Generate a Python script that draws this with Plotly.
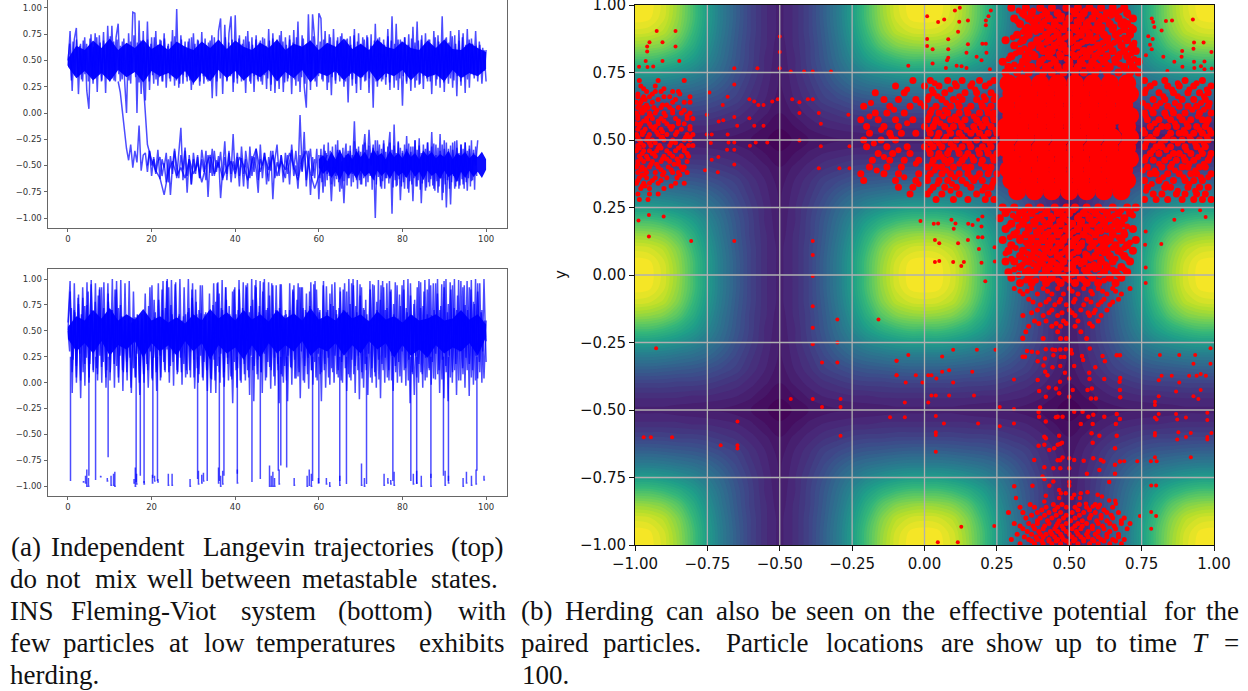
import numpy as np
import plotly.graph_objects as go

W, H = 1248, 691
# ---------- panel (a) top ----------
top_core_hi = [.52,.64,.60,.69,.62,.71,.60,.67,.62,.70,.61,.66,.60,.68,.63,.60,.68,.62,.70,.61,.69,.63,.60,.67,.62,.70,.60,.66,.63,.69,.60,.67,.63,.71,.61,.66,.60,.70,.63,.61,.68,.62,.60,.69,.62,.70,.61,.60,.67,.62,.58]
top_core_lo = [.44,.33,.40,.31,.38,.30,.41,.34,.39,.29,.40,.35,.38,.32,.40,.28,.38,.30,.41,.33,.40,.31,.38,.34,.41,.30,.39,.33,.41,.29,.38,.35,.40,.31,.39,.33,.41,.30,.38,.35,.41,.31,.39,.34,.37,.30,.41,.33,.38,.35,.42]
top_upper = [.45,.78,.21,.70,.81,.18,.66,.30,.72,.21,.04,.75,.28,.76,.20,.74,.30,.77,.19,.83,
 .30,.83,.31,.72,.85,.30,.68,.27,.00,.76,.28,.96,.95,.00,.88,.18,.78,.12,.87,.22,
 .72,.28,.78,.26,.70,.30,.76,.24,.66,.30,.79,.26,.99,.24,.74,.28,.68,.30,.71,.22,
 .76,.31,.70,.26,.77,.28,.65,.30,.69,.14,.72,.16,.78,.90,.18,.84,.30,.76,.92,.20,
 .93,.28,.74,.30,.70,.19,.78,.30,.72,.20,.74,.30,.69,.27,.71,.23,.80,.21,.76,.19,
 .70,.23,.78,.20,.72,.30,.74,.18,.79,.26,.87,.20,.74,.25,.05,.94,.22,.94,.70,.25,
 .95,.90,.30,.78,.22,.75,.17,.80,.28,.72,.30,.76,.25,.70,.10,.73,.26,.80,.19,.76,
 .22,.72,.30,.74,.19,.75,.05,.85,.25,.72,.30,.70,.27,.80,.22,.92,.24,.85,.22,.70,
 .07,.72,.28,.75,.21,.82,.24,.87,.27,.70,.23,.76,.30,.70,.18,.78,.26,.74,.24,.92,
 .20,.72,.28,.78,.24,.74,.16,.79,.26,.76,.19,.80,.24,.71,.36,.78,.30,.65,.28,.60,.30]
top_mid = [.50,.66,.31,.68,.36,.70,.34,.64,.32,.69,.37,.66,.30,.71,.35,.63,.33,.72,.38,.67,.31,.69,.36,.65,.34,.73,.33,.68,.30,.70,.37,.64,.32,.71,.35,.66,.31,.68,.38,.74,.34,.67,.29,.69,.36,.63,.33,.70,.30,.66,
 .36,.72,.32,.65,.34,.69,.30,.71,.37,.64,.33,.68,.35,.73,.31,.66,.28,.70,.36,.63,.34,.68,.31,.72,.27,.66,.33,.69,.30,.64,.35,.71,.32,.67,.37,.74,.34,.66,.30,.69,.33,.65,.36,.72,.31,.67,.35,.70,.29,.64,
 .33,.71,.36,.66,.31,.73,.34,.68,.28,.65,.35,.70,.32,.67,.30,.72,.36,.64,.33,.69,.27,.71,.34,.66,.31,.74,.35,.68,.29,.65,.33,.70,.36,.67,.32,.72,.30,.64,.34,.71,.28,.66,.36,.69,.33,.73,.30,.65,.35,.68,
 .32,.70,.37,.66,.29,.72,.34,.64,.31,.69,.36,.73,.33,.67,.30,.71,.35,.65,.32,.74,.28,.68,.36,.66,.34,.70,.31,.72,.33,.64,.37,.69,.30,.71,.35,.67,.32,.65,.34,.73,.29,.69,.36,.66,.31,.70,.33,.68,.35,.72,
 .30,.65,.34,.71,.37,.67,.31,.69,.28,.74,.35,.66,.33,.70,.30,.64,.36,.72,.32,.68,.34,.65,.29,.71,.36,.67,.33,.73,.31,.66,.35,.69,.30,.72,.34,.65,.32,.70,.37,.66,.33,.64,.36,.68,.38,.62,.40,.60]
top_lower_t0 = 12.0
top_lower = [.30,.20,.02,-.18,-.34,-.45,-.30,-.52,-.36,-.47,-.12,-.55,-.40,-.38,-.56,-.36,-.50,-.44,-.58,-.46,
 -.42,-.60,-.48,-.66,-.44,-.78,-.50,-.34,-.62,-.38,-.14,-.64,-.36,-.76,-.40,-.68,-.44,-.58,-.40,-.62,-.44,-.56,-.36,-.80,-.42,-.60,-.36,-.56,-.41,-.81,
 -.50,-.27,-.64,-.38,-.58,-.20,-.62,-.42,-.70,-.32,-.58,-.44,-.72,-.32,-.60,-.42,-.54,-.76,-.30,-.62,-.38,-.52,-.65,-.36,-.82,-.44,-.30,-.60,-.40,-.56,
 -.62,-.40,-.68,-.30,-.54,-.36,-.60,-.02,-.55,-.18,-.70,-.36,-.78,-.42,-.62,-.34,-.82,-.40,-.76,-.36,-.58,-.44,-.84,-.42,-.60,-.35,-.75,-.46,-.86,-.40,
 -.62,-.36,-.58,-.08,-.64,-.36,-.68,-.42,-.20,-.58,-.16,-.50,-.30,-1.00,-.26,-.56,-.72,-.26,-.62,-.40,-.18,-.96,-.11,-.70,-.28,-.83,-.38,-.72,-.22,-.76,
 -.32,-.84,-.26,-.70,-.24,-.86,-.36,-.74,-.28,-.70,-.18,-.72,-.30,-.76,-.20,-.83,-.26,-.90,-.34,-.87,-.28,-.72,-.26,-.72,-.30,-.68,-.28,-.74,-.34,-.65,-.38,-.50,-.26]
top_second_t0 = 17.0
top_second = [.40,.30,-.30,-.45,-.55,-.62,-.78,-.56,-.46,-.60,-.52,-.62,-.44,-.58,-.48,-.66,-.50,-.40,-.58,-.47,-.62,-.52,-.46,-.58,-.42,-.50,-.64,-.46,-.34,-.56,-.42,-.54,-.40,-.60,-.46,-.54,-.38,-.52,-.64,-.44,-.36,-.58,-.72,-.60,-.50,-.40]
top_third_t0 = 19.0
top_third = [-.50,-.36,-.60,-.42,-.56,-.35,-.63,-.44,-.52,-.38,-.66,-.41,-.58,-.36,-.50,-.62,-.40,-.54,-.33,-.60,-.44,-.68,-.38,-.55,-.42,-.62,-.35,-.50,-.64,-.40,-.57,-.34,-.60,-.45,-.52,-.37,-.64,-.42,-.58,-.36,-.66,-.46,-.54,-.38,-.60,-.43,-.70,-.36,-.52,-.62,-.41,-.56,-.34,-.64,-.44,-.50,-.38,-.68,-.42,-.55,-.36,-.62,-.47,-.53,-.40,-.66,-.38,-.58,-.44,-.35,-.60,-.50,-.72,-.40,-.56,-.36,-.64,-.48,-.34,-.60,-.44]
low_mid_t0 = 60.0
low_mid = [-.40,-.62,-.34,-.66,-.42,-.30,-.70,-.38,-.64,-.28,-.60,-.36,-.68,-.32,-.58,-.70,-.30,-.63,-.26,-.66,-.35,-.60,-.72,-.33,-.65,-.38,-.29,-.69,-.36,-.62,-.31,-.70,-.40,-.66,-.27,-.60,-.34,-.72,-.32,-.64,-.37,-.68,-.30,-.62,-.28,-.70,-.35,-.66,-.31,-.60,-.38,-.73,-.33,-.64,-.26,-.68,-.36,-.61,-.30,-.70,-.34,-.65,-.29,-.72,-.37,-.62,-.32,-.67,-.28,-.60,-.35,-.71,-.31,-.64,-.38,-.69,-.27,-.63,-.33,-.70,-.36,-.66,-.30,-.61,-.34,-.72,-.29,-.65,-.37,-.68,-.32,-.62,-.26,-.70,-.35,-.64,-.31,-.73,-.38,-.67,-.30,-.60,-.34,-.71,-.28,-.66,-.36,-.63,-.32,-.69,-.29,-.74,-.40,-.65,-.33,-.70,-.36,-.62,-.30,-.76,-.34,-.68,-.28,-.64,-.37,-.72,-.31,-.66,-.35,-.60,-.27,-.70,-.33,-.65,-.38,-.69,-.30,-.63,-.34,-.72,-.28,-.66,-.36,-.62,-.31,-.70,-.26,-.64,-.35,-.73,-.32,-.60]
low_core_t = [60,61,62,63,64,65,66,67,68,69,70,71,72,73,74,75,76,77,78,79,80,81,82,83,84,85,86,87,88,89,90,91,92,93,94,95,96,97,98,99,100]
low_core_hi = [-.44,-.40,-.46,-.37,-.44,-.35,-.43,-.38,-.44,-.36,-.42,-.37,-.44,-.34,-.41,-.38,-.44,-.36,-.42,-.38,-.43,-.35,-.42,-.38,-.44,-.36,-.41,-.37,-.43,-.39,-.42,-.36,-.44,-.38,-.41,-.37,-.43,-.39,-.42,-.37,-.44]
low_core_lo = [-.52,-.58,-.54,-.62,-.56,-.64,-.55,-.60,-.56,-.63,-.55,-.61,-.57,-.64,-.55,-.60,-.56,-.63,-.55,-.60,-.57,-.62,-.54,-.61,-.56,-.64,-.55,-.60,-.57,-.63,-.55,-.61,-.58,-.66,-.56,-.62,-.55,-.61,-.56,-.62,-.54]

# ---------- panel (a) bottom ----------
bot_core_hi = [.54,.64,.60,.70,.62,.72,.60,.66,.61,.71,.60,.64,.58,.63,.57,.66,.60,.71,.62,.68,.60,.70,.61,.66,.59,.70,.62,.67,.60,.72,.61,.65,.60,.70,.62,.66,.59,.69,.61,.64,.58,.66,.60,.62,.66,.60,.62,.70,.61,.66,.56]
bot_core_lo = [.42,.30,.38,.28,.40,.26,.36,.32,.40,.24,.38,.30,.36,.26,.40,.30,.38,.22,.36,.28,.34,.22,.36,.24,.38,.28,.36,.30,.40,.26,.34,.30,.38,.26,.36,.28,.40,.32,.38,.24,.36,.26,.32,.24,.36,.28,.34,.30,.38,.26,.44]
bot_a = [.58,.98,-.10,.96,.00,.85,-.15,.82,-.03,.97,.05,.99,.10,.96,.02,.92,.00,.97,-.05,.86,
 .10,1.00,-.05,.98,.00,.99,-.08,.96,.02,.98,-.10,.88,.05,.65,-.12,.62,.00,.66,-.05,.60,
 .02,.63,-.08,.60,.05,.98,.10,1.00,.00,.99,-.03,.97,.10,1.00,-.02,.92,.12,1.00,.05,.96,
 -.06,.66,.08,.67,.02,.64,-.08,.86,.03,.96,-.10,.97,.00,.99,-.04,.80,.02,.62,
 -.20,.92,-.05,.99,.00,.97,.02,.96,-.12,1.00,-.18,.99,.03,.98,-.10,1.00,.05,.97,-.06,.94,
 -.03,.68,-.20,.95,.00,.70,-.18,.96,-.02,.94,.04,.96,-.15,.92,.00,.68,-.06,.97,-.02,.98,
 .02,.68,-.18,.98,-.05,.70,-.02,.95,.00,.70,.05,.88,.00,.96,-.08,1.00,.02,1.00,-.10,.99,
 -.16,.92,-.05,.80,-.12,.98,.00,.94,-.05,.99,-.15,.98,.00,.96,.02,.90,-.08,.97,.00,.85,
 .00,.99,-.03,1.00,-.20,.65,-.12,.62,.00,.97,-.05,.99,.05,1.00,-.02,.96,.03,1.00,-.10,.95,
 -.15,1.00,-.18,.97,.00,1.00,-.12,.99,.02,.92,-.05,.98,-.13,.99,-.02,1.00,.04,.96,.00,1.00,.20]
bot_b = [.50,.88,.10,.70,.05,.76,.02,.92,.18,.75,.00,.95,.12,.78,.08,.90,.15,.72,.05,.96,.02,.70,.18,.90,.05,.75,.12,.60,.10,.58,-.05,.61,.05,.66,.00,.60,.08,.64,.12,.92,.04,.80,.10,.96,.02,.70,.12,.98,.10,.75,
 .20,.95,.08,.66,.10,.64,.05,.68,.12,.90,.05,.78,.00,.94,.05,.66,.12,.60,-.10,.75,.02,.96,.10,.72,.05,.92,.18,.66,.03,.90,.12,.70,.02,.65,.08,.92,.05,.74,.12,.94,.08,.68,.10,.97,.02,.72,.15,.96,.06,.70,
 .12,.95,.06,.65,.02,.62,.15,.90,.04,.80,.10,.92,.02,.70,.08,.88,.12,.95,.05,.72,.08,.60,.12,.93,.05,.76,.10,.97,.08,.72,.02,.90,.14,.68,.05,.96,.08,.74,.12,.95,.04,.70,.12,.60,.05,.95,.10,.78,.03,.94,
 .12,.70,.05,.98,.02,.76,.10,.62,.06,.94,.12,.72,.02,.96,.08,.80,.05,.98,.10,.74,.02,.90,.12,.65,.04,.96,.08,.70,.03,.98,.10,.76,.05,.94,.12,.70,.02,.98,.08,.75,.12,.92,.05,.78,.02,.96,.10,.70,.04,.60]
bot_c = [.50,.30,.72,.22,.68,.16,.82,.28,.66,.10,.74,.24,.88,.18,.70,.30,.62,.14,.84,.26,.92,.20,.66,.12,.78,.22,.70,.32,.90,.16,.72,.26,.64,.10,.60,.20,.62,.24,.58,.14,.63,.28,.60,.16,.66,.22,.86,.18,.74,.30,
 .94,.24,.68,.12,.80,.26,.90,.20,.72,.32,.92,.16,.66,.28,.62,.12,.64,.24,.60,.18,.66,.08,.72,.30,.82,.22,.90,.14,.70,.26,.94,.20,.68,.12,.60,.04,.64,.22,.78,.16,.86,.28,.70,.10,.92,.24,.74,.06,.88,.20,
 .66,.14,.90,.30,.72,.18,.94,.12,.68,.26,.80,.16,.92,.22,.74,.10,.88,.28,.70,.20,.84,.12,.66,.24,.94,.18,.72,.08,.62,.16,.66,.26,.70,.14,.88,.22,.64,.06,.92,.30,.72,.16,.86,.24,.74,.12,.66,.20,.90,.28,
 .70,.10,.94,.18,.68,.24,.86,.14,.74,.26,.66,.12,.92,.20,.70,.30,.88,.08,.76,.22,.94,.16,.68,.26,.84,.10,.72,.18,.66,.28,.90,.14,.62,.06,.70,.22,.80,.18,.92,.24,.72,.12,.88,.26,.66,.16,.94,.20,.74,.30,
 .90,.14,.68,.22,.84,.10,.76,.26,.92,.18,.72,.08,.88,.24,.66,.14,.94,.20,.70,.28,.86,.12,.74,.22,.92,.16,.68,.26,.90,.10,.72,.18,.84,.30,.66,.14,.94,.24,.70,.18,.90,.12,.76,.26,.88,.20,.68,.30,.60,.40]
drop_t = [.6,5,6.6,9.6,16.3,17.3,18.2,20.3,21.4,31,33.3,36.2,37.3,40.5,44,46,50.3,50.9,52.3,58.5,60,65,66.6,71.4,77.7,82,83.4,86.8,89.8,91,97.8]
drop_floor = [-.95,-.90,-.94,-.72,-.96,-.90,-.97,-.92,-.95,-.93,-.95,-.95,-.90,-.88,-.96,-.93,-.85,-.80,-.82,-.95,-.97,-.95,-.98,-.98,-.95,-.95,-.98,-.92,-.90,-.95,-.85]
frag_t = [3.7,4.2,4.5,4.9,7.8,9.4,10.3,10.9,11.2,15.8,16.1,16.4,18.2,20.2,20.7,21.5,24.0,24.9,29.2,31.2,32.0,32.4,36.0,36.5,37.0,40.5,48.2,48.6,49.0,49.4,50.5,54.1,57.2,57.7,58.2,59.9,61.8,62.6,65.0,70.2,70.9,75.6,76.5,77.2,78.0,82.6,83.4,84.5,86.8,90.2,91.0,94.5,95.3,96.5,97.6,99.5]
frag_hi = [-.95,-.90,-.84,-.92,-.90,-.92,-.90,-.88,-.86,-.93,-.82,-.88,-.95,-.89,-.90,-.93,-.88,-.88,-.93,-.85,-.89,-.87,-.82,-.90,-.85,-.84,-.80,-.90,-.86,-.92,-.84,-.92,-.90,-.84,-.88,-.92,-.92,-.96,-.90,-.78,-.92,-.88,-.92,-.94,-.86,-.88,-.85,-.90,-.88,-.85,-.90,-.92,-.86,-.90,-.84,-.90]
frag_lo = [-.96,-.97,-1.0,-1.0,-.91,-.95,-.99,-.99,-1.0,-.97,-1.0,-.98,-.98,-.97,-.95,-.96,-.99,-.99,-1.0,-.98,-.97,-.95,-.97,-1.0,-.98,-.97,-1.0,-1.0,-1.0,-1.0,-.98,-.99,-1.0,-.99,-1.0,-.97,-.98,-1.0,-.99,-.99,-1.0,-.99,-.97,-.98,-.99,-.98,-.97,-1.0,-1.0,-.99,-.97,-1.0,-.97,-.99,-.98,-.94]

potential_quarter = [
 [1.00,.99,.94,.84,.70,.55,.41,.30,.20,.13,.09],
 [ .99,.98,.93,.83,.70,.55,.41,.30,.20,.13,.09],
 [ .94,.93,.89,.80,.67,.53,.40,.29,.20,.13,.09],
 [ .84,.83,.80,.73,.62,.50,.38,.28,.19,.13,.08],
 [ .70,.70,.67,.62,.55,.46,.36,.27,.19,.12,.08],
 [ .55,.55,.53,.50,.46,.40,.33,.25,.18,.12,.07],
 [ .41,.41,.40,.38,.36,.33,.28,.22,.16,.11,.07],
 [ .30,.30,.29,.28,.27,.25,.22,.19,.14,.10,.06],
 [ .20,.20,.20,.19,.19,.18,.16,.14,.11,.08,.05],
 [ .13,.13,.13,.13,.12,.12,.11,.10,.08,.05,.03],
 [ .09,.09,.09,.08,.08,.07,.07,.06,.05,.03,.00]]

# ---------- panel (b) particles ----------
sparse_xy = [(-.925,.904),(-.86,.904),(-.95,.862),(-.905,.862),(-.958,.846),(-.86,.846),(-.958,.828),(-.963,.793),(-.905,.793),(-.847,.793),(-.986,.771),(-.957,.77),(-.937,.772),
(-.657,.766),(-.577,.766),(-.5,.883),(-.5,.826),(-.5,.766),(-.462,.754),(-.416,.754),(-.386,.754),(-.323,.754),(-.743,.676),(-.68,.66),(-.657,.706),(-.605,.651),(-.588,.643),(-.574,.63),(-.556,.63),(-.526,.643),(-.507,.651),(-.457,.651),(-.432,.64),(-.432,.6),(-.403,.651),(-.386,.651),(-.365,.6),(-.358,.56),(-.263,.594),(-.752,.594),(-.697,.63),(-.711,.569),(-.695,.573),(-.657,.585),(-.647,.553),(-.605,.581),(-.588,.553),(-.556,.553),(-.752,.52),(-.735,.52),(-.68,.52),(-.677,.491),(-.657,.491),(-.603,.479),(-.583,.491),(-.543,.491),(-.738,.489),(-.682,.464),(-.657,.464),(-.712,.437),(-.735,.427),(-.657,.409),(-.758,.388),(-.714,.381),(-.432,.498),(-.358,.477),(-.259,.477),(-.365,.395),(-.294,.395),(-.259,.395),
(-.952,.222),(-.901,.217),(-.988,.202),(-.952,.143),(-.806,.126),(-.657,.126),(-.386,.126),(-.386,.074),(-.386,-.004),(-.386,-.116),(-.301,-.165),(-.159,-.165),(-.386,-.195),(-.301,-.25),(-.386,-.256),(-.927,-.271),(-.354,-.324),(-.301,-.324),(-.096,-.318),(-.096,-.371),(-.462,-.459),(-.386,-.459),(-.29,-.459),(-.354,-.489),(-.29,-.489),(-.119,-.527),(-.646,-.543),(-.29,-.595),(-.97,-.601),(-.945,-.601),(-.872,-.601),(-.704,-.631),(-.646,-.631),(-.646,-.643),
(-.056,-.296),(-.097,-.318),(.061,-.302),(.099,-.277),(.181,-.277),(.245,-.277),(-.097,-.371),(-.03,-.371),(.013,-.371),(.024,-.371),(.041,-.383),(.061,-.358),(.085,-.353),(.165,-.358),(-.065,-.398),(-.007,-.398),(.099,-.398),(.024,-.446),(.039,-.446),(.085,-.446),(.171,-.446),(-.068,-.472),(.013,-.472),(.26,-.489),(.309,-.496),(.309,-.387),(-.068,-.527),(.039,-.522),(.067,-.55),(.185,-.55),(.26,-.56),(.309,-.55),(.039,-.582),(.039,-.593),(.039,-.655),
(.813,-.296),(.88,-.296),(.935,-.296),(.988,-.271),(.929,-.329),(.988,-.329),(.819,-.373),(.809,-.39),(.854,-.373),(.914,-.373),(.94,-.373),(.954,-.367),(.972,-.373),(.88,-.398),(.954,-.426),(.809,-.449),(.869,-.431),(.929,-.449),(.946,-.459),(.796,-.469),(.796,-.481),(.809,-.515),(.796,-.528),(.802,-.535),(.869,-.515),(.873,-.535),(.903,-.528),(.977,-.51),(.977,-.537),(.796,-.585),(.796,-.594),(.877,-.582),(.873,-.609),(.903,-.6),(.92,-.585),(.977,-.6),(.991,-.585),(.977,-.609),(.796,-.675),(.782,-.69),(.802,-.69),(.92,-.675),(.735,-.69),(.69,-.69),(.783,-.78),(.8,-.78),(.783,-.878),(.8,-.893),(.744,-.893),(.783,-.94),
(.127,-.932),(.241,-.93),(.046,-.99),(.115,-.99),
(.009,.958),(.047,.937),(.068,.946),(.105,.98),(.122,.99),(.12,.938),(.15,.943),(.116,.901),(.009,.874),(.082,.873),(.009,.848),(.028,.836),(.082,.836),(.15,.855),(.2,.857),(.212,.857),(.145,.823),(.214,.823),(.18,.808),(.082,.805),(.078,.795),(.028,.783),(-.056,.775),(.111,.775),(.128,.773),(.074,.767),(.145,.767),(.197,.795),(.226,.762),(.212,.943),(.212,.925),(.221,.958),(.229,.98),
(.785,.95),(.79,.937),(.794,.919),(.819,.906),(.834,.941),(.855,.943),(.927,.946),(.773,.884),(.788,.874),(.785,.836),(.779,.853),(.931,.861),(.964,.861),(.929,.838),(.89,.83),(.991,.826),(.825,.808),(.888,.808),(.863,.79),(.931,.79),(.765,.814),(.891,.771),(.932,.767),(.955,.773),(.967,.791),(.967,.762),(.992,.765),(.839,.756),
(-.014,.2),(.032,.19),(.047,.191),(.093,.205),(.107,.191),(.101,.171),(.151,.19),(.166,.185),(.185,.205),(.2,.217),(.197,.18),(.036,.13),(.051,.118),(.116,.118),(.15,.13),(.185,.14),(.2,.14),(.188,.096),(.036,.048),(.051,.052),(.099,.048),(.127,.033),(.136,.048),(.197,.045),(.242,.103),(.21,-.023),(.243,.05),
(.764,.161),(.762,.112),(.818,.115),(.863,.205),(.971,.215),(.891,.24),(.952,.24),(.764,.028),(.764,-.03)]
stem_mid_xy = [(.339,-.232),(.354,-.281),(.371,-.284),(.391,-.287),(.419,-.275),(.442,-.276),(.452,-.278),(.469,-.276),(.488,-.275),(.506,-.278),(.571,-.272),(.339,-.303),(.347,-.303),(.391,-.319),(.416,-.309),(.445,-.297),(.471,-.304),(.483,-.304),(.509,-.291),(.544,-.3),(.548,-.315),(.615,-.3),(.623,-.319),(.664,-.297),(.675,-.297),(.411,-.335),(.417,-.358),(.442,-.342),(.469,-.337),(.485,-.362),(.517,-.337),(.569,-.362),(.59,-.342),(.391,-.389),(.425,-.371),(.468,-.395),(.5,-.383),(.57,-.385),(.621,-.385),(.676,-.381),(.674,-.395),(.396,-.43),(.429,-.417),(.454,-.42),(.512,-.426),(.563,-.426),(.578,-.42),(.675,-.426),(.419,-.451),(.465,-.438),(.5,-.451),(.575,-.457),(.592,-.457),(.676,-.453),(.394,-.507),(.399,-.491),(.46,-.525),(.477,-.525),(.517,-.506),(.546,-.506),(.566,-.525),(.583,-.518),(.621,-.525),(.664,-.515),(.675,-.533),(.396,-.525),(.419,-.543),(.454,-.527),(.54,-.552),(.581,-.552),(.661,-.552),(.414,-.599),(.419,-.605),(.465,-.595),(.604,-.595),(.577,-.586),(.664,-.595),(.581,-.621),(.475,-.621),(.468,-.626),(.46,-.629),(.448,-.642),(.431,-.648),(.414,-.629),(.394,-.632),(.658,-.642),(.379,-.685),(.46,-.686),(.468,-.686),(.477,-.676),(.5,-.679),(.517,-.685),(.55,-.688),(.583,-.679),(.609,-.685),(.618,-.691),(.658,-.703),(.675,-.691),(.414,-.712),(.445,-.716),(.469,-.716),(.5,-.716),(.561,-.736),(.604,-.722),(.658,-.736),(.408,-.746),(.414,-.756),(.445,-.765),(.5,-.767),(.638,-.767),(.373,-.781),(.31,-.782),(.431,-.781),(.5,-.781),(.465,-.796),(.471,-.808),(.488,-.808),(.517,-.814),(.54,-.808),(.563,-.805),(.598,-.814),(.613,-.82),(.465,-.826),(.419,-.818),(.414,-.839),(.509,-.826),(.537,-.826),(.316,-.826),(.638,-.835),(.659,-.836),(.661,-.847),(.558,-.847),(.606,-.851),(.581,-.857)]

left_y = [.72,.70,.68,.66,.64,.62,.60,.58,.56,.54,.52,.50,.48,.46,.44,.42,.40,.38,.36,.34,.32,.30,.28]
left_x = [[-.985,-.92,-.83],[-.98,-.93],[-.96,-.93,-.91,-.87,-.85],[-.99,-.97,-.95,-.90,-.88,-.81],[-.995,-.98,-.94,-.87,-.83,-.81],
 [-.99,-.97,-.955,-.935,-.91,-.88,-.85],[-.995,-.975,-.95,-.93,-.90,-.87,-.84,-.81],[-.99,-.96,-.94,-.91,-.86,-.82,-.80],[-.995,-.98,-.95,-.92,-.89,-.85,-.83],[-.99,-.965,-.935,-.91,-.875,-.84,-.81],
 [-.995,-.975,-.95,-.92,-.89,-.86,-.82,-.80],[-.985,-.96,-.94,-.90,-.87,-.83,-.81],[-.99,-.97,-.945,-.915,-.88,-.84,-.815,-.80],[-.995,-.97,-.95,-.925,-.89,-.86,-.83],[-.985,-.96,-.93,-.90,-.87,-.84,-.815],
 [-.99,-.97,-.94,-.91,-.88,-.85,-.82],[-.995,-.975,-.95,-.92,-.885,-.84,-.83],[-.99,-.96,-.93,-.90,-.87,-.85,-.82],[-.985,-.96,-.93,-.89,-.855],[-.995,-.97,-.95,-.92,-.86,-.83],
 [-.98,-.95,-.90],[-.99,-.95,-.92],[-.985,-.955]]
left2_y = [.69,.67,.65,.63,.61,.59,.57,.55,.53,.51,.49,.47,.45,.43,.41,.39,.37,.35,.33]
left2_x = [[-.97,-.90],[-.99,-.94,-.845],[-.975,-.965,-.92,-.86],[-.985,-.96,-.905,-.89],[-.98,-.965,-.925,-.87,-.83],[-.99,-.95,-.945,-.895,-.82],[-.97,-.96,-.92,-.90,-.85],[-.985,-.945,-.93,-.88,-.87,-.81],[-.975,-.97,-.925,-.905,-.855],[-.99,-.955,-.91,-.905,-.825,-.81],
 [-.98,-.95,-.93,-.875,-.86],[-.99,-.985,-.92,-.91,-.85,-.83],[-.975,-.94,-.935,-.88,-.82],[-.98,-.955,-.905,-.89,-.855],[-.99,-.945,-.925,-.865,-.85],[-.98,-.965,-.91,-.875,-.835],[-.975,-.97,-.905,-.845],[-.99,-.94,-.91],[-.975,-.965,-.875]]
mid_y = [.72,.70,.675,.65,.625,.60,.575,.55,.525,.50,.475,.45,.425,.40,.375,.35,.325,.30,.28]
mid_x = [[-.04,.02,.08,.13,.19,.24],[-.10,.00,.05,.11,.16,.21],[-.17,-.07,.03,.07,.14,.18,.23],[-.14,-.09,-.03,.01,.06,.10,.13,.18,.21,.24],[-.21,-.12,-.05,.00,.04,.09,.12,.16,.20,.23],
 [-.17,-.13,-.07,.02,.05,.08,.12,.15,.19,.22,.24],[-.22,-.16,-.10,-.04,.01,.04,.09,.11,.14,.18,.21,.24],[-.20,-.14,-.09,.00,.03,.07,.10,.13,.17,.20,.23],[-.19,-.12,-.08,-.03,.02,.05,.09,.12,.16,.19,.22,.25],[-.21,-.15,-.10,.01,.04,.07,.11,.14,.18,.21,.24],
 [-.20,-.13,-.06,.00,.03,.06,.10,.13,.16,.20,.23],[-.16,-.11,-.05,.02,.05,.08,.12,.15,.19,.22,.25],[-.18,-.12,-.07,-.02,.03,.07,.09,.13,.17,.20,.24],[-.19,-.13,-.08,.01,.04,.06,.10,.14,.16,.21,.23],[-.22,-.14,-.09,-.02,.02,.06,.09,.12,.15,.19,.22,.25],
 [-.21,-.10,-.03,.01,.05,.08,.13,.17,.20,.24],[-.09,-.04,.03,.07,.11,.16,.21,.23],[-.05,.01,.06,.12,.18,.22],[.04,.10,.15,.21,.24]]
mid2_y = [.71,.687,.662,.637,.612,.587,.562,.537,.512,.487,.462,.437,.412,.387,.362,.337,.312]
mid2_x = [[.035,.105,.165,.225],[-.06,.025,.09,.175],[.015,.045,.12,.205,.245],[-.185,-.015,.075,.115,.195],[-.105,.025,.07,.145,.215],[-.19,.015,.065,.105,.17,.235],[-.06,.035,.055,.125,.19,.215],[-.15,.015,.085,.145,.175,.245],[-.115,.045,.075,.13,.205],[-.175,.02,.05,.09,.155,.225],[-.09,.015,.085,.115,.185,.215],[-.14,.045,.06,.14,.165,.235],[-.03,.025,.08,.12,.195],[-.165,.035,.075,.15,.225],[-.07,.01,.105,.16,.18],[-.02,.045,.095,.145,.235],[.02,.09,.2]]
right_y = [.72,.70,.675,.65,.625,.60,.575,.55,.525,.50,.475,.45,.425,.40,.375,.35,.325,.30,.28]
right_x = [[.76,.83,.90,.96],[.78,.84,.88,.93,.99],[.76,.81,.86,.91,.95,.98],[.79,.83,.89,.93,.97],[.77,.80,.84,.88,.91,.94,.98],
 [.76,.79,.83,.86,.90,.95,.99],[.77,.81,.85,.89,.92,.96,.98],[.78,.82,.84,.87,.91,.94,.97],[.76,.80,.85,.88,.90,.93,.96,.99],[.77,.79,.83,.86,.89,.92,.95,.98],
 [.76,.80,.82,.85,.90,.94,.97],[.78,.81,.86,.88,.92,.96,.99],[.76,.79,.83,.87,.90,.93,.98],[.77,.82,.85,.89,.91,.95,.97],[.78,.80,.84,.88,.92,.94,.99],
 [.76,.81,.86,.90,.93,.96],[.77,.83,.85,.91,.95,.98],[.79,.82,.87,.90,.94,.97],[.76,.80,.84,.89,.93,.96,.99]]
right2_y = [.71,.687,.662,.637,.612,.587,.562,.537,.512,.487,.462,.437,.412,.387,.362,.337,.312]
right2_x = [[.795,.875,.94],[.765,.855,.915,.975],[.825,.875,.965],[.755,.815,.865,.955,.985],[.785,.855,.925,.965],[.765,.835,.88,.945],[.795,.865,.905,.975],[.755,.805,.895,.95,.985],[.78,.84,.915,.975],[.765,.815,.875,.935,.965],[.79,.835,.905,.955],[.765,.845,.895,.945,.985],[.81,.855,.915,.965],[.755,.795,.865,.935],[.825,.895,.955,.98],[.785,.835,.915],[.765,.875,.935]]
top_arm_y = [.99,.97,.95,.93,.91,.89,.87,.85,.83,.81,.79,.77,.75]
top_arm_x = [[.30,.35,.40,.44,.49,.53,.57,.61,.65,.69],[.34,.37,.42,.46,.52,.55,.59,.63,.66,.70],[.31,.36,.39,.43,.47,.50,.54,.58,.62,.67,.72],[.33,.38,.41,.45,.49,.53,.56,.60,.64,.68,.70],
 [.35,.37,.40,.44,.48,.52,.55,.59,.61,.65,.69,.72],[.32,.36,.42,.46,.50,.54,.57,.62,.66,.71],[.28,.34,.39,.43,.47,.51,.56,.58,.63,.67,.70],[.31,.37,.40,.45,.48,.53,.60,.64,.68,.72],
 [.33,.36,.41,.44,.49,.55,.57,.61,.65,.69,.73],[.30,.35,.38,.43,.47,.52,.56,.59,.63,.67,.70],[.27,.34,.40,.45,.50,.54,.58,.62,.66,.71,.74],[.29,.33,.37,.42,.46,.49,.53,.57,.60,.64,.69,.72],[.28,.32,.36,.41,.44,.48,.52,.55,.59,.63,.67,.71,.74]]
top2_y = [.98,.96,.94,.92,.90,.88,.86,.84,.82,.80,.78,.76]
top2_x = [[.325,.375,.415,.51,.555,.585,.645,.675],[.345,.405,.47,.475,.535,.605,.645,.705],[.32,.37,.415,.45,.525,.565,.605,.635,.69],[.355,.39,.425,.465,.51,.57,.615,.655,.715],[.34,.385,.43,.455,.53,.565,.6,.675,.705],[.305,.35,.405,.445,.485,.525,.595,.635,.69],[.33,.385,.42,.46,.505,.545,.615,.655,.725],[.345,.395,.43,.47,.515,.57,.585,.625,.71],[.315,.375,.425,.465,.51,.535,.6,.675,.715],[.29,.36,.41,.445,.49,.545,.61,.655,.725],[.31,.355,.395,.435,.505,.55,.59,.63,.675],[.3,.35,.39,.43,.465,.51,.575,.62,.695,.73]]
low_arm_y = [.25,.23,.21,.19,.17,.15,.13,.11,.09,.07,.05,.03,.01,-.01,-.03]
low_arm_x = [[.27,.31,.36,.40,.45,.49,.52,.56,.60,.65,.70,.73],[.28,.33,.37,.42,.46,.50,.55,.59,.63,.67,.71],[.26,.32,.35,.39,.44,.48,.53,.57,.61,.64,.69],[.30,.34,.38,.43,.47,.51,.54,.58,.62,.66,.68],
 [.28,.36,.40,.45,.49,.53,.56,.60,.63,.67,.72],[.31,.35,.39,.42,.46,.50,.55,.59,.65,.69],[.27,.33,.37,.41,.44,.48,.52,.57,.61,.64,.68,.73],[.30,.36,.39,.43,.47,.51,.54,.58,.62,.66,.70],
 [.29,.34,.38,.42,.45,.49,.53,.60,.63,.67,.72],[.33,.37,.41,.46,.50,.56,.59,.64,.69],[.28,.31,.36,.40,.44,.48,.52,.55,.61,.65,.71],[.33,.39,.43,.47,.51,.57,.60,.63,.68],[.29,.35,.38,.42,.46,.52,.56,.62,.66,.70],[.30,.36,.41,.44,.49,.54,.58,.64,.68],[.33,.37,.42,.47,.52,.56,.60,.66]]
low2_y = [.24,.22,.20,.18,.16,.14,.12,.10,.08,.06,.04,.02,.00,-.02]
low2_x = [[.29,.345,.385,.425,.475,.515,.575,.615,.68],[.305,.35,.405,.435,.48,.535,.565,.6,.655,.72],[.335,.375,.41,.465,.495,.545,.59,.625,.665],[.29,.325,.36,.415,.455,.5,.56,.605,.645,.7],[.32,.385,.43,.47,.515,.575,.61,.65,.69],[.295,.33,.37,.405,.44,.485,.53,.565,.625,.67],[.35,.39,.425,.46,.505,.545,.59,.63,.71],[.315,.375,.41,.455,.495,.525,.57,.61,.65,.69],[.28,.355,.395,.435,.475,.515,.555,.62,.68],[.3,.345,.385,.42,.47,.53,.575,.61,.66,.7],[.34,.375,.41,.455,.505,.54,.585,.625],[.31,.36,.415,.45,.49,.55,.59,.65,.69],[.325,.37,.405,.44,.48,.51,.57,.605,.67],[.35,.385,.43,.46,.5,.55,.62]]
stem_y = [-.05,-.07,-.09,-.11,-.13,-.15,-.17,-.19,-.21,-.235,-.86,-.88,-.90,-.92,-.94,-.96,-.98,-.995]
stem_x = [[.31,.37,.41,.46,.50,.55,.60,.65,.71],[.34,.39,.44,.48,.53,.58,.63,.68],[.36,.43,.47,.52,.56,.62,.67],[.40,.45,.49,.55,.60,.64],[.39,.44,.50,.54,.59,.63],[.34,.41,.46,.52,.57,.61],[.38,.42,.48,.53,.60],[.36,.44,.47,.52,.58],[.35,.46,.54],[.34,.41,.47,.49,.56],
 [.33,.38,.42,.46,.49,.52,.56,.60,.65],[.29,.34,.39,.43,.47,.51,.55,.59,.63,.67],[.35,.40,.44,.48,.52,.57,.61,.65,.69],
 [.31,.36,.39,.43,.46,.49,.53,.56,.60,.64,.68,.71],[.34,.38,.41,.45,.48,.51,.54,.58,.62,.66,.70],[.32,.37,.40,.42,.44,.47,.50,.53,.56,.59,.63,.67],[.30,.36,.39,.43,.46,.48,.52,.55,.58,.61,.65,.69],[.33,.38,.41,.44,.47,.50,.53,.57,.60,.64,.68]]
stem2_y = [-.06,-.10,-.14,-.18,-.85,-.87,-.89,-.91,-.93,-.95,-.97,-.985]
stem2_x = [[.33,.355,.425,.51,.575,.615,.66],[.375,.42,.465,.515,.575,.61,.65],[.37,.43,.475,.51,.565,.585],[.395,.455,.49,.57],[.365,.445,.475,.535,.59],[.405,.45,.53,.57,.62],[.37,.415,.455,.49,.535,.575,.61,.645],[.39,.425,.465,.505,.545,.595,.63,.68],[.33,.375,.415,.455,.475,.52,.545,.58,.615,.655],[.355,.395,.435,.46,.49,.525,.565,.6,.64],[.345,.385,.41,.45,.475,.51,.54,.565,.6,.63,.67],[.37,.405,.43,.455,.49,.515,.55,.585,.62,.66]]
core_y = [.71,.67,.63,.59,.55,.51,.47,.43,.39,.35,.31]
core_x = [[.29,.34,.40,.46,.52,.58,.64,.70],[.30,.36,.42,.48,.54,.60,.66,.71],[.28,.34,.39,.45,.51,.57,.63,.69],[.30,.36,.42,.48,.54,.60,.66,.71],[.28,.33,.39,.45,.51,.57,.63,.70],[.29,.35,.41,.47,.53,.59,.65,.71],[.28,.34,.40,.46,.52,.58,.64,.70],[.30,.36,.42,.48,.54,.60,.66,.71],[.29,.34,.40,.46,.52,.58,.64,.69],[.30,.36,.42,.48,.54,.60,.66,.70],[.32,.38,.44,.50,.56,.62,.68]]

grid_ticks = [-1,-.75,-.5,-.25,0,.25,.5,.75,1]
caption_words = [
 (547,[(10,"(a)"),(50,"Independent"),(202,"Langevin"),(313,"trajectories"),(450,"(top)")]),
 (579,[(9,"do"),(45,"not"),(94,"mix"),(146,"well"),(200,"between"),(301,"metastable"),(430,"states.")]),
 (611,[(9,"INS"),(70,"Fleming-Viot"),(240,"system"),(337,"(bottom)"),(457,"with")]),
 (643,[(9,"few"),(62,"particles"),(168,"at"),(203,"low"),(255,"temperatures"),(418,"exhibits")]),
 (675,[(9,"herding.")]),
 (611,[(520,"(b)"),(564,"Herding"),(665,"can"),(715,"also"),(770,"be"),(805,"seen"),(863,"on"),(901,"the"),(948,"effective"),(1052,"potential"),(1163,"for"),(1205,"the")]),
 (643,[(520,"paired"),(602,"particles."),(725,"Particle"),(825,"locations"),(940,"are"),(985,"show"),(1054,"up"),(1095,"to"),(1128,"time"),(1191,"<i>T</i>"),(1223,"=")]),
 (675,[(521,"100.")]),
]
CAPTION_SIZE = 27

def xd(a,b): return [a/W,b/W]
def yd(top,bot): return [1-bot/H,1-top/H]
fig = go.Figure()
BLUE = "rgba(0,0,255,0.7)"
SOLID = "rgba(0,0,255,0.95)"

def band(t,hi,lo,xa,ya):
    fig.add_trace(go.Scatter(x=list(t)+list(t)[::-1],y=list(hi)+list(lo)[::-1],fill="toself",mode="none",fillcolor=SOLID,xaxis=xa,yaxis=ya,hoverinfo="skip",showlegend=False))
def line(t,v,xa,ya,width=1.5,color=BLUE):
    fig.add_trace(go.Scatter(x=t,y=v,mode="lines",line=dict(color=color,width=width),xaxis=xa,yaxis=ya,hoverinfo="skip",showlegend=False))

t_core = np.linspace(0,100,len(top_core_hi))
band(t_core,top_core_hi,top_core_lo,"x","y")
line(np.linspace(0,100,len(top_mid)),top_mid,"x","y")
line(np.linspace(0,100,len(top_upper)),top_upper,"x","y")
line(top_lower_t0+0.5*np.arange(len(top_lower)),top_lower,"x","y")
line(top_second_t0+1.0*np.arange(len(top_second)),top_second,"x","y")
line(top_third_t0+0.5*np.arange(len(top_third)),top_third,"x","y")
line(low_mid_t0+0.25*np.arange(len(low_mid)),low_mid,"x","y")
band(low_core_t,low_core_hi,low_core_lo,"x","y")

band(np.linspace(0,100,len(bot_core_hi)),bot_core_hi,bot_core_lo,"x2","y2")
line(np.linspace(0,100,len(bot_a)),bot_a,"x2","y2")
line(np.linspace(0,100,len(bot_b)),bot_b,"x2","y2")
line(np.linspace(0,100,len(bot_c)),bot_c,"x2","y2")
dx,dy=[],[]
for t,f in zip(drop_t,drop_floor):
    dx+=[t,t,None]; dy+=[.25,f,None]
line(dx,dy,"x2","y2")
fx,fy=[],[]
for t,a,b in zip(frag_t,frag_hi,frag_lo):
    fx+=[t,t,t+.25,None]; fy+=[a,b,b,None]
line(fx,fy,"x2","y2")

# potential
fold = list(range(11))+list(range(9,-1,-1))+list(range(1,11))+list(range(9,-1,-1))
axis_vals = [round(-1+.05*i,2) for i in range(41)]
z = [[potential_quarter[fold[j]][fold[i]] for i in range(41)] for j in range(41)]
fig.add_trace(go.Contour(x=axis_vals,y=axis_vals,z=z,colorscale="Viridis",showscale=False,zmin=0,zmax=1,
    contours=dict(start=0,end=1.0,size=0.025,coloring="fill",showlines=False),line=dict(width=0),
    xaxis="x3",yaxis="y3",hoverinfo="skip"))

def rows(ys,xs):
    ox,oy=[],[]
    for y,r in zip(ys,xs):
        for x in r:
            ox.append(x); oy.append(y)
    return ox,oy
def pts(x,y,size):
    fig.add_trace(go.Scatter(x=x,y=y,mode="markers",marker=dict(color="#ff0000",size=size,line=dict(width=0)),xaxis="x3",yaxis="y3",hoverinfo="skip",showlegend=False))
pts([p[0] for p in sparse_xy],[p[1] for p in sparse_xy],4)
pts([p[0] for p in stem_mid_xy],[p[1] for p in stem_mid_xy],4.5)
pts(*rows(left_y,left_x),5)
pts(*rows(left2_y,left2_x),5)
pts(*rows(mid_y,mid_x),7)
pts(*rows(mid2_y,mid2_x),6)
pts(*rows(right_y,right_x),7)
pts(*rows(right2_y,right2_x),6)
pts(*rows(top_arm_y,top_arm_x),8)
pts(*rows(top2_y,top2_x),6)
pts(*rows(low_arm_y,low_arm_x),8)
pts(*rows(low2_y,low2_x),6)
pts(*rows(stem_y,stem_x),5)
pts(*rows(stem2_y,stem2_x),5)
pts(*rows(core_y,core_x),18)

small = dict(family="DejaVu Sans",size=8.5,color="#333333")
big = dict(family="DejaVu Sans",size=15,color="#111111")
left_common = dict(showline=True,mirror=True,linecolor="#666666",linewidth=1,ticks="outside",ticklen=3,tickcolor="#666666",tickfont=small,showgrid=False,zeroline=False)
layout = dict(
    width=W,height=H,margin=dict(l=0,r=0,t=0,b=0,autoexpand=False),paper_bgcolor="white",plot_bgcolor="white",autosize=False,showlegend=False,
    xaxis=dict(domain=xd(47.5,507),range=[-4.9,105],dtick=20,anchor="y",**left_common),
    yaxis=dict(domain=yd(0,228),range=[-1.095,1.076],tickvals=grid_ticks,tickformat=".2f",anchor="x",**left_common),
    xaxis2=dict(domain=xd(47.5,507),range=[-4.9,105],dtick=20,anchor="y2",**left_common),
    yaxis2=dict(domain=yd(268.7,496),range=[-1.095,1.1],tickvals=grid_ticks,tickformat=".2f",anchor="x2",**left_common),
    xaxis3=dict(domain=xd(635,1214),range=[-1,1],tickvals=grid_ticks,tickformat=".2f",anchor="y3",showline=True,mirror=True,linecolor="#111111",linewidth=1,ticks="outside",ticklen=5,tickcolor="#111111",tickfont=big,showgrid=False,zeroline=False),
    yaxis3=dict(domain=yd(5,545),range=[-1,1.0001],tickvals=grid_ticks,tickformat=".2f",anchor="x3",showline=True,mirror=True,linecolor="#111111",linewidth=1,ticks="outside",ticklen=5,tickcolor="#111111",tickfont=big,showgrid=False,zeroline=False,ticklabeloverflow="allow"),
)
fig.update_layout(**layout)
shapes=[]
for v in grid_ticks[1:-1]:
    shapes.append(dict(type="line",xref="x3",yref="y3",x0=v,x1=v,y0=-1,y1=1,line=dict(color="#b0b0b0",width=1.3),layer="above"))
    shapes.append(dict(type="line",xref="x3",yref="y3",x0=-1,x1=1,y0=v,y1=v,line=dict(color="#b0b0b0",width=1.3),layer="above"))
anns=[dict(x=561/W,y=1-275/H,xref="paper",yref="paper",text="y",textangle=-90,showarrow=False,font=big)]
for py,words in caption_words:
    for px,s in words:
        anns.append(dict(x=px/W,y=1-py/H,xref="paper",yref="paper",xanchor="left",yanchor="middle",xshift=-1,text=s,showarrow=False,font=dict(family="Liberation Serif",size=CAPTION_SIZE,color="#111111")))
fig.update_layout(shapes=shapes,annotations=anns)
fig.write_html("out.html",config=dict(displayModeBar=False),post_script="document.body.style.margin='0';document.body.style.overflow='hidden';")
